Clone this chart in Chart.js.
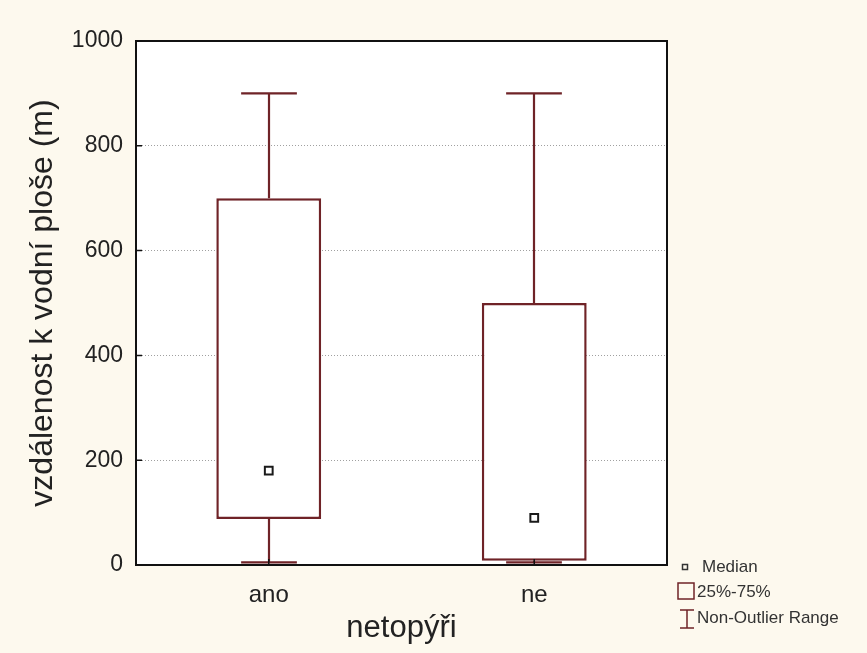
<!DOCTYPE html>
<html>
<head>
<meta charset="utf-8">
<script src="https://cdn.jsdelivr.net/npm/chart.js@4/dist/chart.umd.min.js"></script>
<style>
html,body{margin:0;padding:0;background:#fdf9ee;}
#wrap{width:867px;height:653px;}
</style>
</head>
<body>
<div id="wrap"><canvas id="c" width="867" height="653"></canvas></div>
<script>
// box plot values
const groups=["ano","ne"];
const q1=[88,8];
const q3=[700,500];
const medians=[180,90];
const whiskerLow=[5,5];
const whiskerHigh=[900,900];
const yTicks=[0,200,400,600,800,1000];

const BOX="#6f2327";
const FONT="Arial, 'Liberation Sans', sans-serif";

// cream background + white plot area
const bgPlugin={
  id:"bg",
  beforeDraw(chart){
    const {ctx,chartArea:a}=chart;
    ctx.save();
    ctx.fillStyle="#fdf9ee"; ctx.fillRect(0,0,chart.width,chart.height);
    ctx.fillStyle="#ffffff"; ctx.fillRect(a.left,a.top,a.right-a.left,a.bottom-a.top);
    ctx.restore();
  }
};

// whiskers, drawn under the boxes
const whiskerPlugin={
  id:"whiskers",
  beforeDatasetsDraw(chart){
    const {ctx,scales:{x,y}}=chart;
    const capHalf=(x.width/groups.length)*0.105;
    ctx.save();
    ctx.strokeStyle=BOX; ctx.lineWidth=2.2;
    groups.forEach((g,i)=>{
      const cx=Math.round(x.getPixelForValue(i));
      const yl=y.getPixelForValue(whiskerLow[i]), yh=y.getPixelForValue(whiskerHigh[i]);
      ctx.beginPath();
      ctx.moveTo(cx,y.getPixelForValue(q3[i])); ctx.lineTo(cx,yh);
      ctx.moveTo(cx,y.getPixelForValue(q1[i])); ctx.lineTo(cx,yl);
      ctx.moveTo(cx-capHalf,yh); ctx.lineTo(cx+capHalf,yh);
      ctx.moveTo(cx-capHalf,yl); ctx.lineTo(cx+capHalf,yl);
      ctx.stroke();
    });
    ctx.restore();
  }
};

// frame, inner ticks, legend
const framePlugin={
  id:"frame",
  afterDraw(chart){
    const {ctx,chartArea:a,scales:{x,y}}=chart;
    ctx.save();
    ctx.strokeStyle="#111"; ctx.lineWidth=2;
    ctx.strokeRect(a.left,a.top,a.right-a.left,a.bottom-a.top);
    ctx.lineWidth=1.5;
    ctx.beginPath();
    yTicks.forEach(v=>{const p=y.getPixelForValue(v); ctx.moveTo(a.left,p); ctx.lineTo(a.left+6,p);});
    groups.forEach((g,i)=>{const p=x.getPixelForValue(i); ctx.moveTo(p,a.bottom); ctx.lineTo(p,a.bottom-6);});
    ctx.stroke();

    // legend
    const lx=a.right+18;
    ctx.font="17px "+FONT; ctx.fillStyle="#333"; ctx.textBaseline="middle"; ctx.textAlign="left";
    ctx.strokeStyle="#333"; ctx.lineWidth=1.5;
    ctx.strokeRect(lx-2.5,a.bottom-0.5,5,5);
    ctx.fillText("Median",lx+17,a.bottom+2);
    ctx.strokeStyle=BOX;
    ctx.strokeRect(lx-7,a.bottom+18,16,16);
    ctx.fillText("25%-75%",lx+12,a.bottom+27);
    ctx.beginPath();
    ctx.moveTo(lx-5,a.bottom+45); ctx.lineTo(lx+9,a.bottom+45);
    ctx.moveTo(lx+2,a.bottom+45); ctx.lineTo(lx+2,a.bottom+63);
    ctx.moveTo(lx-5,a.bottom+63); ctx.lineTo(lx+9,a.bottom+63);
    ctx.stroke();
    ctx.fillText("Non-Outlier Range",lx+12,a.bottom+53);
    ctx.restore();
  }
};

new Chart(document.getElementById("c"),{
  type:"bar",
  data:{
    labels:groups,
    datasets:[
      {
        type:"bar",
        data:groups.map((g,i)=>[q1[i],q3[i]]),
        backgroundColor:"#ffffff",
        borderColor:BOX,
        borderWidth:2.5,
        borderSkipped:false,
        categoryPercentage:1,
        barPercentage:0.395,
        order:2
      },
      {
        type:"line",
        data:medians,
        showLine:false,
        pointStyle:"rect",
        pointRadius:5.5,
        pointBorderWidth:2,
        pointBorderColor:"#1a1a1a",
        pointBackgroundColor:"#ffffff",
        order:1
      }
    ]
  },
  options:{
    responsive:false,
    animation:false,
    layout:{padding:{left:0,top:41,right:200,bottom:0}},
    plugins:{legend:{display:false},tooltip:{enabled:false}},
    scales:{
      x:{
        offset:true,
        grid:{display:false},
        border:{display:false},
        ticks:{color:"#222",font:{family:FONT,size:24},padding:8},
        title:{display:true,text:"netopýři",color:"#222",font:{family:FONT,size:31},padding:{top:0,bottom:6}},
        afterFit(s){s.height=88;}
      },
      y:{
        min:0,max:1000,
        border:{display:false,dash:[1,2]},
        grid:{
          drawTicks:false,
          color:c=>(c.tick&&(c.tick.value===0||c.tick.value===1000))?"rgba(0,0,0,0)":"#a0a0a0",
          lineWidth:1
        },
        ticks:{stepSize:200,color:"#222",font:{family:FONT,size:23},padding:13,callback:v=>String(v)},
        title:{display:true,text:"vzdálenost k vodní ploše (m)",color:"#222",font:{family:FONT,size:32},padding:{top:24,bottom:0}},
        afterFit(s){s.width=136;}
      }
    }
  },
  plugins:[bgPlugin,whiskerPlugin,framePlugin]
});
</script>
</body>
</html>
